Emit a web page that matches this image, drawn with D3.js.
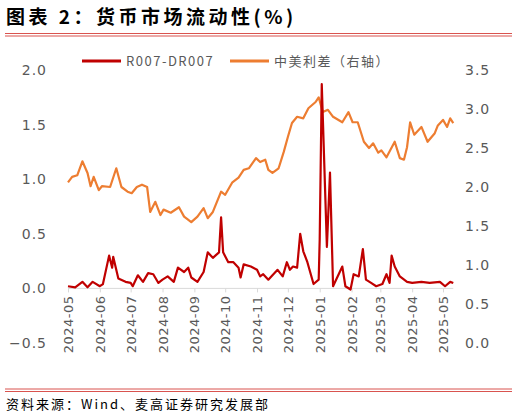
<!DOCTYPE html>
<html lang="zh">
<head>
<meta charset="UTF-8">
<script src="https://d3js.org/d3.v7.min.js"></script>
<style>
  body { margin: 0; background: #fff; font-family: "Noto Sans CJK SC", "DejaVu Sans", sans-serif; }
  .tick text { fill: #595959; font-size: 14px; font-family: "DejaVu Sans", sans-serif; letter-spacing: 1px; }
</style>
</head>
<body>
<svg id="chart" width="518" height="417"></svg>
<script>
// R007-DR007 (left axis)
const spreadDates = ["2024-05-01","2024-05-08","2024-05-15","2024-05-20","2024-05-25","2024-06-01","2024-06-04","2024-06-10","2024-06-13","2024-06-14","2024-06-19","2024-06-26","2024-07-01","2024-07-03","2024-07-08","2024-07-13","2024-07-18","2024-07-23","2024-07-28","2024-08-01","2024-08-06","2024-08-12","2024-08-16","2024-08-22","2024-08-26","2024-08-29","2024-09-04","2024-09-10","2024-09-14","2024-09-19","2024-09-25","2024-09-27","2024-09-29","2024-10-04","2024-10-09","2024-10-14","2024-10-16","2024-10-19","2024-10-26","2024-11-01","2024-11-04","2024-11-07","2024-11-12","2024-11-14","2024-11-21","2024-11-26","2024-11-30","2024-12-03","2024-12-06","2024-12-10","2024-12-13","2024-12-16","2024-12-20","2024-12-26","2024-12-31","2025-01-01","2025-01-03","2025-01-08","2025-01-11","2025-01-14","2025-01-23","2025-01-26","2025-01-31","2025-02-03","2025-02-08","2025-02-12","2025-02-15","2025-02-20","2025-02-25","2025-03-03","2025-03-07","2025-03-10","2025-03-12","2025-03-15","2025-03-20","2025-03-27","2025-04-01","2025-04-10","2025-04-18","2025-04-28","2025-05-03","2025-05-08","2025-05-11"];
const spreadValues = [0.02,0.01,0.06,0.01,0.06,0.02,0.04,0.30,0.19,0.29,0.09,0.06,0.05,0.02,0.12,0.06,0.14,0.13,0.05,0.08,0.11,0.06,0.19,0.15,0.19,0.10,0.06,0.15,0.33,0.28,0.33,0.65,0.33,0.24,0.24,0.19,0.10,0.22,0.20,0.17,0.11,0.13,0.08,0.10,0.17,0.11,0.24,0.17,0.20,0.19,0.50,0.34,0.24,0.04,0.08,0.45,1.87,0.38,1.06,0.02,0.20,0.02,-0.01,0.13,0.11,0.36,0.08,0.05,0.02,0.04,0.13,0.05,0.30,0.20,0.11,0.06,0.05,0.06,0.05,0.06,0.02,0.06,0.05];

// 中美利差 (right axis)
const gapDates = ["2024-05-01","2024-05-05","2024-05-10","2024-05-15","2024-05-20","2024-05-23","2024-05-26","2024-05-31","2024-06-03","2024-06-11","2024-06-17","2024-06-22","2024-06-28","2024-07-02","2024-07-07","2024-07-12","2024-07-17","2024-07-20","2024-07-25","2024-07-30","2024-08-02","2024-08-09","2024-08-17","2024-08-22","2024-08-29","2024-09-04","2024-09-10","2024-09-14","2024-09-19","2024-09-27","2024-10-01","2024-10-08","2024-10-14","2024-10-19","2024-10-24","2024-10-31","2024-11-04","2024-11-09","2024-11-12","2024-11-16","2024-11-22","2024-11-27","2024-12-01","2024-12-05","2024-12-10","2024-12-16","2024-12-21","2024-12-28","2024-12-31","2025-01-04","2025-01-09","2025-01-14","2025-01-23","2025-01-29","2025-02-02","2025-02-07","2025-02-13","2025-02-18","2025-02-22","2025-02-27","2025-03-02","2025-03-07","2025-03-15","2025-03-20","2025-03-24","2025-03-27","2025-03-30","2025-04-03","2025-04-10","2025-04-16","2025-04-23","2025-04-26","2025-05-01","2025-05-05","2025-05-08","2025-05-11"];
const gapValues = [2.06,2.13,2.15,2.33,2.18,2.01,2.13,1.96,2.01,2.00,2.24,2.00,1.94,1.92,2.00,2.03,2.00,1.68,1.81,1.64,1.71,1.67,1.74,1.62,1.55,1.62,1.73,1.60,1.68,1.94,1.90,2.06,2.12,2.22,2.24,2.37,2.32,2.35,2.22,2.18,2.24,2.45,2.64,2.82,2.90,2.88,3.01,3.09,3.15,2.96,2.99,2.90,2.83,2.96,2.83,2.83,2.58,2.50,2.56,2.44,2.47,2.38,2.58,2.37,2.35,2.51,2.83,2.67,2.77,2.58,2.69,2.79,2.86,2.77,2.88,2.82];

const monthTicks = ["2024-05","2024-06","2024-07","2024-08","2024-09","2024-10","2024-11","2024-12","2025-01","2025-02","2025-03","2025-04","2025-05"];
const leftTicks = [-0.5, 0, 0.5, 1.0, 1.5, 2.0];
const rightTicks = [0, 0.5, 1.0, 1.5, 2.0, 2.5, 3.0, 3.5];

const parse = d3.timeParse("%Y-%m-%d");
const svg = d3.select("#chart");

const x = d3.scaleTime().domain([parse("2024-05-01"), parse("2025-05-01")]).range([68, 443]);
const yL = d3.scaleLinear().domain([-0.5, 2.0]).range([343, 70]);
const yR = d3.scaleLinear().domain([0, 3.5]).range([343, 70]);

// title
svg.append("text").attr("x", 6).attr("y", 24).attr("font-size", 19).attr("font-weight", "bold")
  .attr("letter-spacing", 3.5).attr("fill", "#000").text("图表 2：货币市场流动性(%)");
svg.append("line").attr("x1", 5).attr("x2", 512).attr("y1", 33.5).attr("y2", 33.5).attr("stroke", "#d9534f").attr("stroke-width", 1);
svg.append("line").attr("x1", 5).attr("x2", 512).attr("y1", 36).attr("y2", 36).attr("stroke", "#d9534f").attr("stroke-width", 1);

// axes
svg.append("g")
  .call(d3.axisLeft(yL).tickValues(leftTicks).tickSize(0).tickPadding(0).tickFormat(d3.format(".1f")))
  .call(g => g.select(".domain").remove())
  .selectAll("text").attr("x", 47).attr("text-anchor", "end");

svg.append("g")
  .call(d3.axisRight(yR).tickValues(rightTicks).tickSize(0).tickFormat(d3.format(".1f")))
  .call(g => g.select(".domain").remove())
  .selectAll("text").attr("x", 465).attr("text-anchor", "start");

svg.append("g").attr("transform", `translate(0,${yL(0)})`)
  .call(d3.axisBottom(x).tickValues(monthTicks.map(m => parse(m + "-01"))).tickSize(4).tickFormat(d3.timeFormat("%Y-%m")))
  .call(g => g.select(".domain").attr("stroke", "#d9d9d9").attr("d", `M${x(parse("2024-05-01"))},0H${x(parse("2025-05-11"))}`))
  .call(g => g.selectAll(".tick line").attr("stroke", "#d9d9d9"))
  .selectAll("text")
  .attr("transform", "rotate(-90)")
  .attr("text-anchor", "end")
  .attr("x", -7).attr("y", 0).attr("dy", "0.35em")
  .style("font-size", "13px").style("letter-spacing", "0.5px");

// lines
const gapLine = d3.line().x((d, i) => x(parse(gapDates[i]))).y(d => yR(d));
svg.append("path").datum(gapValues).attr("d", gapLine)
  .attr("fill", "none").attr("stroke", "#ed7d31").attr("stroke-width", 2.2).attr("stroke-linejoin", "round");

const spreadLine = d3.line().x((d, i) => x(parse(spreadDates[i]))).y(d => yL(d));
svg.append("path").datum(spreadValues).attr("d", spreadLine)
  .attr("fill", "none").attr("stroke", "#c00000").attr("stroke-width", 2.2).attr("stroke-linejoin", "round");

// legend
const legend = [
  { label: "R007-DR007", color: "#c00000", x: 82 },
  { label: "中美利差（右轴）", color: "#ed7d31", x: 230 }
];
legend.forEach(l => {
  svg.append("line").attr("x1", l.x).attr("x2", l.x + 39).attr("y1", 61).attr("y2", 61)
    .attr("stroke", l.color).attr("stroke-width", 3);
  svg.append("text").attr("x", l.x + 44).attr("y", 66).attr("font-size", 13).attr("letter-spacing", 1.5)
    .attr("fill", "#595959").text(l.label);
});

// footer
svg.append("line").attr("x1", 5).attr("x2", 512).attr("y1", 389).attr("y2", 389).attr("stroke", "#d9534f").attr("stroke-width", 1);
svg.append("line").attr("x1", 5).attr("x2", 512).attr("y1", 391.5).attr("y2", 391.5).attr("stroke", "#d9534f").attr("stroke-width", 1);
svg.append("text").attr("x", 6).attr("y", 409).attr("font-size", 13).attr("letter-spacing", 2).attr("fill", "#000")
  .text("资料来源：Wind、麦高证券研究发展部");
</script>
</body>
</html>
